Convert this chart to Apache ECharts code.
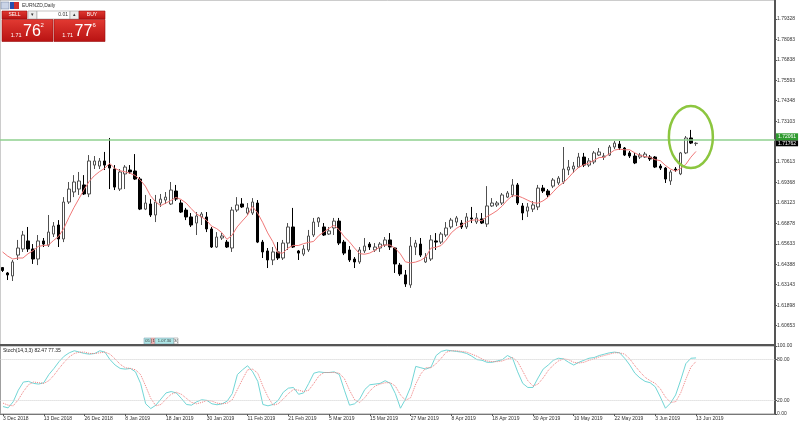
<!DOCTYPE html>
<html>
<head>
<meta charset="utf-8">
<script src="https://cdn.jsdelivr.net/npm/echarts@6/dist/echarts.min.js"></script>
<style>html,body{margin:0;padding:0;background:#fff;}#c{width:800px;height:423px;}</style>
</head>
<body>
<div id="c"></div>
<script>
// ---- Data (EURNZD, Daily) ----
const xTickLabels = ['3 Dec 2018','13 Dec 2018','26 Dec 2018','8 Jan 2019','18 Jan 2019','30 Jan 2019','11 Feb 2019','21 Feb 2019','5 Mar 2019','15 Mar 2019','27 Mar 2019','8 Apr 2019','18 Apr 2019','30 Apr 2019','10 May 2019','22 May 2019','3 Jun 2019','13 Jun 2019'];
const priceTicks = [1.60653,1.61898,1.63143,1.64388,1.65633,1.66878,1.68123,1.69368,1.70613,1.73103,1.74348,1.75593,1.76838,1.78083,1.79328];
const stochTicks = [0,20,80,100];
const stochLevels = [20,80];
const hLinePrice = 1.72061;
const bidPrice = 1.71762;

const opens = [1.6419,1.6386,1.6368,1.6495,1.6532,1.6581,1.6532,1.6471,1.6581,1.6556,
1.6623,1.6678,1.6593,1.6818,1.6879,1.6897,1.6922,1.6867,1.7043,1.7037,
1.7068,1.7043,1.7019,1.6897,1.6989,1.7013,1.7007,1.6958,1.6775,1.6806,
1.6739,1.6812,1.6830,1.6806,1.6885,1.6812,1.6769,1.6727,1.6690,1.6727,
1.6727,1.6654,1.6544,1.6599,1.6574,1.6538,1.6769,1.6806,1.6751,1.6751,
1.6812,1.6574,1.6520,1.6465,1.6514,1.6477,1.6568,1.6666,1.6520,1.6501,
1.6526,1.6617,1.6696,1.6666,1.6623,1.6660,1.6702,1.6574,1.6526,1.6471,
1.6453,1.6520,1.6562,1.6526,1.6538,1.6556,1.6587,1.6538,1.6434,1.6374,
1.6313,1.6544,1.6562,1.6453,1.6471,1.6581,1.6574,1.6617,1.6666,1.6696,
1.6690,1.6666,1.6721,1.6696,1.6715,1.6684,1.6794,1.6800,1.6812,1.6848,
1.6861,1.6922,1.6794,1.6763,1.6775,1.6788,1.6903,1.6885,1.6915,1.6934,
1.6940,1.7013,1.7019,1.7031,1.7092,1.7043,1.7062,1.7104,1.7092,1.7104,
1.7153,1.7171,1.7147,1.7117,1.7098,1.7092,1.7092,1.7092,1.7092,1.7037,
1.7025,1.6946,1.7019,1.6989,1.7117,1.7208,1.7174];
const closes = [1.6401,1.6374,1.6453,1.6538,1.6617,1.6532,1.6471,1.6581,1.6562,1.6635,
1.6672,1.6593,1.6818,1.6897,1.6940,1.6946,1.6867,1.7068,1.7068,1.7068,
1.7043,1.7025,1.6909,1.7001,1.7031,1.7001,1.6958,1.6775,1.6812,1.6739,
1.6818,1.6836,1.6848,1.6891,1.6836,1.6757,1.6727,1.6678,1.6733,1.6745,
1.6654,1.6544,1.6605,1.6611,1.6544,1.6769,1.6800,1.6788,1.6782,1.6818,
1.6574,1.6514,1.6465,1.6514,1.6477,1.6568,1.6666,1.6544,1.6507,1.6532,
1.6611,1.6696,1.6721,1.6617,1.6642,1.6702,1.6568,1.6507,1.6465,1.6453,
1.6526,1.6550,1.6544,1.6544,1.6562,1.6587,1.6544,1.6441,1.6380,1.6319,
1.6550,1.6568,1.6495,1.6483,1.6587,1.6574,1.6623,1.6660,1.6708,1.6721,
1.6666,1.6727,1.6715,1.6721,1.6690,1.6794,1.6812,1.6812,1.6861,1.6873,
1.6922,1.6812,1.6751,1.6788,1.6800,1.6903,1.6885,1.6861,1.6952,1.6964,
1.7019,1.7031,1.7037,1.7092,1.7043,1.7068,1.7117,1.7123,1.7098,1.7153,
1.7177,1.7147,1.7104,1.7098,1.7056,1.7104,1.7110,1.7080,1.7031,1.7025,
1.6958,1.7001,1.7013,1.7117,1.7208,1.7177,1.71762];
const lows = [1.6392,1.6343,1.6337,1.6465,1.6514,1.6514,1.6441,1.6434,1.6544,1.6544,
1.6605,1.6544,1.6574,1.6806,1.6848,1.6861,1.6861,1.6848,1.7019,1.7019,
1.7013,1.6897,1.6891,1.6885,1.6897,1.6989,1.6952,1.6769,1.6769,1.6727,
1.6696,1.6788,1.6806,1.6800,1.6824,1.6751,1.6708,1.6666,1.6617,1.6678,
1.6635,1.6538,1.6538,1.6587,1.6538,1.6514,1.6757,1.6782,1.6739,1.6739,
1.6568,1.6477,1.6416,1.6434,1.6465,1.6465,1.6526,1.6538,1.6465,1.6489,
1.6514,1.6605,1.6666,1.6611,1.6617,1.6617,1.6556,1.6495,1.6453,1.6416,
1.6441,1.6507,1.6526,1.6514,1.6514,1.6544,1.6526,1.6386,1.6368,1.6301,
1.6295,1.6495,1.6483,1.6447,1.6459,1.6526,1.6562,1.6605,1.6654,1.6672,
1.6654,1.6654,1.6690,1.6684,1.6684,1.6666,1.6788,1.6788,1.6800,1.6842,
1.6848,1.6800,1.6708,1.6727,1.6757,1.6769,1.6873,1.6848,1.6903,1.6922,
1.6928,1.6982,1.6995,1.7025,1.7031,1.7031,1.7049,1.7098,1.7074,1.7098,
1.7141,1.7135,1.7098,1.7086,1.7049,1.7080,1.7086,1.7068,1.7025,1.7013,
1.6934,1.6922,1.7001,1.6982,1.7110,1.7171,1.7160];
const highs = [1.6422,1.6392,1.6465,1.6587,1.6642,1.6666,1.6562,1.6617,1.6599,1.6739,
1.6696,1.6708,1.6848,1.6940,1.6982,1.7001,1.6982,1.7104,1.7098,1.7086,
1.7123,1.7208,1.7043,1.7019,1.7043,1.7043,1.7110,1.6970,1.6861,1.6836,
1.6861,1.6867,1.6879,1.6940,1.6922,1.6830,1.6782,1.6751,1.6757,1.6757,
1.6757,1.6666,1.6635,1.6629,1.6587,1.6788,1.6848,1.6842,1.6812,1.6842,
1.6830,1.6587,1.6538,1.6544,1.6574,1.6587,1.6690,1.6782,1.6526,1.6556,
1.6648,1.6721,1.6727,1.6690,1.6666,1.6721,1.6721,1.6587,1.6550,1.6483,
1.6544,1.6599,1.6574,1.6568,1.6574,1.6605,1.6629,1.6544,1.6447,1.6404,
1.6605,1.6587,1.6599,1.6507,1.6617,1.6629,1.6635,1.6696,1.6721,1.6733,
1.6708,1.6751,1.6788,1.6751,1.6751,1.6915,1.6842,1.6824,1.6873,1.6885,
1.6958,1.6934,1.6812,1.6812,1.6824,1.6922,1.6922,1.6897,1.6964,1.6976,
1.7153,1.7074,1.7062,1.7117,1.7117,1.7086,1.7129,1.7147,1.7117,1.7165,
1.7190,1.7190,1.7153,1.7129,1.7117,1.7117,1.7123,1.7104,1.7098,1.7049,
1.7031,1.7013,1.7031,1.7123,1.7220,1.7257,1.7182];
const maLine = [1.6514,1.6489,1.6471,1.6477,1.6477,1.6503,1.6522,1.6548,1.6553,1.6556,
1.6584,1.6609,1.6656,1.6723,1.6784,1.6839,1.6894,1.6944,1.6978,1.7003,
1.7023,1.7054,1.7023,1.7009,1.7002,1.6993,1.6980,1.6953,1.6915,1.6857,
1.6820,1.6796,1.6811,1.6827,1.6846,1.6834,1.6812,1.6778,1.6746,1.6728,
1.6707,1.6671,1.6656,1.6632,1.6591,1.6615,1.6666,1.6702,1.6736,1.6791,
1.6752,1.6695,1.6630,1.6577,1.6509,1.6507,1.6538,1.6554,1.6553,1.6564,
1.6572,1.6578,1.6613,1.6635,1.6657,1.6676,1.6650,1.6607,1.6577,1.6539,
1.6504,1.6500,1.6507,1.6523,1.6545,1.6557,1.6556,1.6536,1.6503,1.6454,
1.6447,1.6452,1.6463,1.6483,1.6537,1.6542,1.6553,1.6586,1.6630,1.6657,
1.6676,1.6696,1.6707,1.6710,1.6704,1.6729,1.6746,1.6766,1.6794,1.6830,
1.6856,1.6856,1.6844,1.6829,1.6814,1.6811,1.6825,1.6847,1.6880,1.6913,
1.6936,1.6966,1.7001,1.7029,1.7045,1.7055,1.7072,1.7089,1.7090,1.7112,
1.7134,1.7140,1.7136,1.7136,1.7117,1.7102,1.7095,1.7090,1.7076,1.7070,
1.7041,1.7019,1.7006,1.7023,1.7047,1.7091,1.7126];
const stochK = [11,9,18,35,47,48,45,44,46,58,
67,77,85,90,93,91,89,88,89,93,
91,80,72,67,66,67,62,45,15,8,
13,22,31,33,31,23,14,13,18,21,
20,15,13.6,15,19,30,58,65,71,62,
48,14,12,14,20,32,38,39,29,31,
45,60,62,61,61,62,58,35,13,15,
22,36,43,44,45,49,45,30,8.5,22,
40,70,68,66,69,86,92,94,93,92,
91,89,85,80,79,76,76,78,80,86,
82,62,45,39,39,53,66,72,79,82,
81,76,72,76,79,82,83,86,88,90,
91,90,82,72,60,53,48,46,40,25,
8.5,16,28,50,74,82,82.47];
const stochD = [16,13,12,21,33,43,47,46,45,49,
57,67,76,84,89,91,91,89,89,90,
91,88,81,73,68,67,65,58,41,23,
12,14,22,29,32,29,23,17,15,17,
20,19,16,15,16,21,36,51,65,66,
60,41,25,13,15,22,30,36,35,33,
35,45,56,61,61,61,60,52,35,21,
17,24,34,41,44,46,46,41,28,20,
24,44,59,68,68,74,82,91,93,93,
92,91,88,85,81,78,77,77,78,81,
83,77,63,49,41,44,53,64,72,78,
81,80,76,75,76,79,81,84,86,88,
90,90,88,81,71,62,54,49,45,37,
25,17,18,31,51,69,77.35];
const highlight = {bar: 135, price: 1.7214};

// ---- Build ----
const TOTAL_SLOTS = 152; // bars plus right-side chart shift
const LABEL_STEP = 8;
const cats = [];
for (let i = 0; i < TOTAL_SLOTS; i++) cats.push(String(i));
const ohlc = opens.map((o, i) => [o, closes[i], lows[i], highs[i]]);
const showTick = (i) => i % LABEL_STEP === 0 && (i / LABEL_STEP) < xTickLabels.length;
const FONT = 'Liberation Sans, Arial, sans-serif';

const chart = echarts.init(document.getElementById('c'), null, {renderer: 'canvas'});
const option = {
  animation: false,
  backgroundColor: '#fff',
  textStyle: {fontFamily: FONT},
  grid: [
    {left: 0, right: 25, top: 0, height: 345, show: true, borderColor: '#9a9a9a', borderWidth: 1},
    {left: 0, right: 25, top: 346, height: 68, show: true, borderColor: '#9a9a9a', borderWidth: 1}
  ],
  xAxis: [
    {type: 'category', gridIndex: 0, data: cats, boundaryGap: true,
     axisLine: {show: true, lineStyle: {color: '#555', width: 2}},
     axisTick: {show: false}, axisLabel: {show: false}, splitLine: {show: false}},
    {type: 'category', gridIndex: 1, data: cats, boundaryGap: true,
     axisLine: {show: true, lineStyle: {color: '#777', width: 1}},
     axisTick: {show: true, alignWithLabel: true, length: 2, interval: (i) => showTick(i), lineStyle: {color: '#555'}},
     axisLabel: {show: true, interval: (i) => showTick(i), align: 'left', fontSize: 5, color: '#333', margin: 2, fontFamily: FONT,
       formatter: (v, i) => xTickLabels[Math.round(i / LABEL_STEP)] || ''},
     splitLine: {show: false}}
  ],
  yAxis: [
    {type: 'value', gridIndex: 0, position: 'right', min: 1.59473, max: 1.80483, scale: true,
     axisLine: {show: true, lineStyle: {color: '#555', width: 2}},
     axisTick: {show: true, length: 2, customValues: priceTicks, lineStyle: {color: '#555'}},
     axisLabel: {show: true, customValues: priceTicks, fontSize: 5, color: '#333', margin: 2, fontFamily: FONT,
       formatter: (v) => Number(v).toFixed(5)},
     splitLine: {show: false}},
    {type: 'value', gridIndex: 1, position: 'right', min: 0, max: 100,
     axisLine: {show: true, lineStyle: {color: '#555', width: 2}},
     axisTick: {show: true, length: 2, customValues: stochTicks, lineStyle: {color: '#555'}},
     axisLabel: {show: true, customValues: stochTicks, fontSize: 5, color: '#333', margin: 2, fontFamily: FONT,
       formatter: (v) => Number(v).toFixed(2)},
     splitLine: {show: false}}
  ],
  series: [
    {type: 'candlestick', name: 'EURNZD', xAxisIndex: 0, yAxisIndex: 0, data: ohlc, barWidth: 3,
     itemStyle: {color: '#ffffff', color0: '#000000', borderColor: '#505050', borderColor0: '#000000', borderWidth: 1},
     markLine: {silent: true, symbol: ['none', 'none'], animation: false,
       data: [
         {yAxis: bidPrice, lineStyle: {color: 'rgba(0,0,0,0)', width: 1, type: 'solid'},
          label: {show: true, position: 'end', distance: 1, offset: [0, 4], formatter: bidPrice.toFixed(5), color: '#fff',
                  backgroundColor: '#000', fontSize: 5, lineHeight: 6, padding: [0, 2, 0, 2], fontFamily: FONT}},
         {yAxis: hLinePrice, lineStyle: {color: '#8fd08f', width: 1.5, type: 'solid'},
          label: {show: true, position: 'end', distance: 1, offset: [0, -2.5], formatter: hLinePrice.toFixed(5), color: '#fff',
                  backgroundColor: '#2f9b2f', fontSize: 5, lineHeight: 6, padding: [0.5, 2, 0.5, 2], fontFamily: FONT}}
       ]}},
    {type: 'line', name: 'MA', xAxisIndex: 0, yAxisIndex: 0, data: maLine, symbol: 'none',
     lineStyle: {color: '#f07878', width: 1}},
    {type: 'line', name: '%K', xAxisIndex: 1, yAxisIndex: 1, data: stochK, symbol: 'none',
     lineStyle: {color: '#72d6d6', width: 1},
     markLine: {silent: true, symbol: ['none', 'none'], label: {show: false},
       lineStyle: {color: '#cfcfcf', type: 'dotted', width: 1},
       data: stochLevels.map(v => ({yAxis: v}))}},
    {type: 'line', name: '%D', xAxisIndex: 1, yAxisIndex: 1, data: stochD, symbol: 'none',
     lineStyle: {color: '#f08080', width: 1, type: 'dotted'}}
  ]
};
chart.setOption(option);

const ctr = chart.convertToPixel({gridIndex: 0}, [highlight.bar, highlight.price]);
const redGrad = {type: 'linear', x: 0, y: 0, x2: 0, y2: 1, colorStops: [{offset: 0, color: '#e23a32'}, {offset: 1, color: '#b81212'}]};
const txt = (id, x, y, s, size, fill, align, extra) => Object.assign({
  type: 'text', id: id, x: x, y: y, silent: true,
  style: {text: s, fontSize: size, fill: fill, align: align || 'left', verticalAlign: 'middle', fontFamily: FONT}
}, extra || {});
const rect = (id, x, y, w, h, fill, stroke) => ({type: 'rect', id: id, silent: true,
  shape: {x: x, y: y, width: w, height: h}, style: {fill: fill, stroke: stroke || null, lineWidth: stroke ? 0.6 : 0}});

const graphics = [
  // header
  rect('ic1', 1, 2, 8, 7, '#c9d3e6', '#7a8aa8'),
  rect('ic2', 10, 2, 4, 7, '#2a4fb0', null),
  rect('ic3', 14, 2, 5, 7, '#d23030', null),
  txt('title', 22, 6, 'EURNZD,Daily', 5, '#333'),
  // one-click trading panel
  rect('sellBtn', 2, 11, 25, 8, redGrad, '#9a0d0d'),
  txt('sellTxt', 14.5, 15, 'SELL', 5, '#fff', 'center'),
  rect('dnBtn', 28, 11, 9, 8, '#ececec', '#a0a0a0'),
  txt('dnTxt', 32.5, 15, '\u25BE', 5, '#333', 'center'),
  rect('lotBox', 37, 11, 33, 8, '#ffffff', '#a0a0a0'),
  txt('lotTxt', 68, 15, '0.01', 5, '#333', 'right'),
  rect('upBtn', 70, 11, 9, 8, '#ececec', '#a0a0a0'),
  txt('upTxt', 74.5, 15, '\u25B4', 5, '#333', 'center'),
  rect('buyBtn', 79, 11, 26, 8, redGrad, '#9a0d0d'),
  txt('buyTxt', 92, 15, 'BUY', 5, '#fff', 'center'),
  rect('sellBox', 2, 19.5, 51, 22, redGrad, '#9a0d0d'),
  rect('buyBox', 54, 19.5, 51, 22, redGrad, '#9a0d0d'),
  txt('s1', 21.5, 35, '1.71', 5.5, '#fff', 'right'),
  txt('s2', 23, 31.5, '76', 16, '#fff'),
  txt('s3', 40.5, 25.5, '2', 6, '#fff'),
  txt('b1', 73, 35, '1.71', 5.5, '#fff', 'right'),
  txt('b2', 74.5, 31.5, '77', 16, '#fff'),
  txt('b3', 92.5, 25.5, '6', 6, '#fff'),
  // small data-window strip
  rect('tw1', 144, 338, 7, 6, '#aee6e6', '#8ab'),
  rect('tw2', 151, 338, 4, 6, '#f2b4b4', '#c99'),
  rect('tw3', 155, 338, 19, 6, '#aee6e6', '#8ab'),
  rect('tw4', 174, 338, 4, 6, '#ffffff', '#999'),
  txt('tt1', 147.5, 341, '05', 4, '#333', 'center'),
  txt('tt2', 153, 341, '|1', 4, '#333', 'center'),
  txt('tt3', 164.5, 341, '1.07.30', 4, '#333', 'center'),
  txt('tt4', 176, 341, '3(', 4, '#333', 'center'),
  // stochastic caption
  txt('stochTitle', 3, 350.5, 'Stoch(14,3,3) 82.47 77.35', 5, '#222'),
  // highlight ellipse
  {type: 'ellipse', id: 'hl', silent: true, shape: {cx: ctr[0], cy: ctr[1], rx: 22, ry: 31},
   style: {fill: 'none', stroke: '#8cc63f', lineWidth: 2.5}, z: 10}
];
chart.setOption({graphic: {elements: graphics}});
</script>
</body>
</html>
